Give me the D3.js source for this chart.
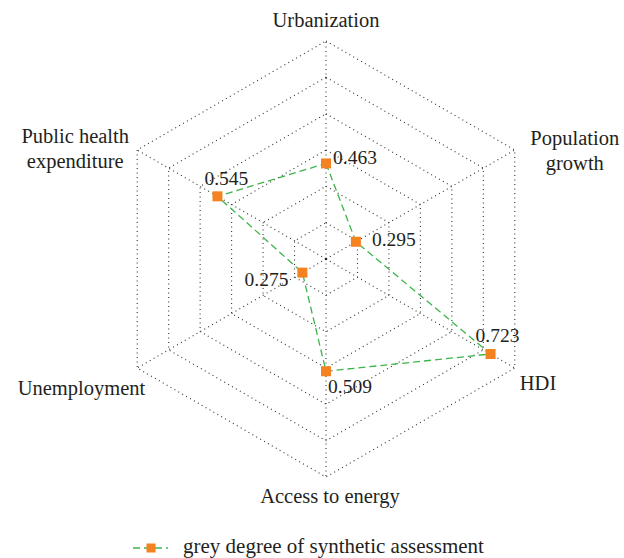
<!DOCTYPE html>
<html>
<head>
<meta charset="utf-8">
<script src="https://cdn.jsdelivr.net/npm/d3@7"></script>
<style>
  body { margin: 0; background: #fff; }
</style>
</head>
<body>
<div id="chart-area"></div>
<script>
var indicators = ["Urbanization", "Population growth", "HDI", "Access to energy", "Unemployment", "Public health expenditure"];
var values = [0.463, 0.295, 0.723, 0.509, 0.275, 0.545];
var ringTicks = [0.3, 0.4, 0.5, 0.6, 0.7, 0.8];
var seriesName = "grey degree of synthetic assessment";

var fontFam = "'Liberation Serif', serif";

// label placement, per axis (offset from outer vertex)
var axisLabelPos = [
	{dx: 0, dy: -14, anchor: "middle", lines: ["Urbanization"]},
	{dx: 60, dy: -5, anchor: "middle", lines: ["Population", "growth"]},
	{dx: 5, dy: 22, anchor: "start", lines: ["HDI"]},
	{dx: 4, dy: 26, anchor: "middle", lines: ["Access to energy"]},
	{dx: 8, dy: 27, anchor: "end", lines: ["Unemployment"]},
	{dx: -62, dy: -7, anchor: "middle", lines: ["Public health", "expenditure"]}
];
// value label offsets from the marker
var valueLabelPos = [
	{dx: 7, dy: 1, anchor: "start"},
	{dx: 16, dy: 4, anchor: "start"},
	{dx: -15, dy: -12, anchor: "start"},
	{dx: 2, dy: 22, anchor: "start"},
	{dx: -14, dy: 13, anchor: "end"},
	{dx: -13, dy: -11, anchor: "start"}
];

var width = 624, height = 558;
var cx = 326, cy = 259, R = 218;

var svg = d3.select("#chart-area")
	.append("svg")
		.attr("width", width)
		.attr("height", height)
		.attr("font-family", fontFam);

var g = svg.append("g")
	.attr("transform", "translate(" + cx + "," + cy + ")");

var r = d3.scaleLinear()
	.domain([0.2, 0.8])
	.range([0, R]);

var angle = d3.scalePoint()
	.domain(indicators)
	.range([0, 2 * Math.PI * (indicators.length - 1) / indicators.length]);

function pt(name, v) {
	var a = angle(name);
	return [r(v) * Math.sin(a), -r(v) * Math.cos(a)];
}

// rings
var ringLine = d3.line();
g.selectAll(".ring")
	.data(ringTicks)
	.enter()
	.append("path")
		.attr("class", "ring")
		.attr("d", function(t) {
			return ringLine(indicators.map(function(n) { return pt(n, t); })) + "Z";
		})
		.attr("fill", "none")
		.attr("stroke", "#333")
		.attr("stroke-width", 1.1)
		.attr("stroke-dasharray", "1,3.5");

// spokes
g.selectAll(".spoke")
	.data(indicators)
	.enter()
	.append("line")
		.attr("class", "spoke")
		.attr("x1", 0).attr("y1", 0)
		.attr("x2", function(n) { return pt(n, 0.8)[0]; })
		.attr("y2", function(n) { return pt(n, 0.8)[1]; })
		.attr("stroke", "#333")
		.attr("stroke-width", 1.1)
		.attr("stroke-dasharray", "1,3.5");

g.append("circle")
	.attr("r", 1.3)
	.attr("fill", "#222");

// axis labels
indicators.forEach(function(n, i) {
	var p = pt(n, 0.8), lp = axisLabelPos[i];
	var t = g.append("text")
		.attr("x", p[0] + lp.dx)
		.attr("y", p[1] + lp.dy)
		.attr("text-anchor", lp.anchor)
		.attr("fill", "#231f20")
		.attr("font-size", "20.5px");
	lp.lines.forEach(function(s, k) {
		t.append("tspan")
			.attr("x", p[0] + lp.dx)
			.attr("dy", k == 0 ? 0 : 25)
			.text(s);
	});
});

// series
var pts = indicators.map(function(n, i) { return pt(n, values[i]); });

g.append("path")
	.attr("d", d3.line()(pts) + "Z")
	.attr("fill", "none")
	.attr("stroke", "#3cb54a")
	.attr("stroke-width", 1.3)
	.attr("stroke-dasharray", "7,4");

g.selectAll(".marker")
	.data(pts)
	.enter()
	.append("rect")
		.attr("class", "marker")
		.attr("x", function(d) { return d[0] - 5; })
		.attr("y", function(d) { return d[1] - 5; })
		.attr("width", 10)
		.attr("height", 10)
		.attr("fill", "#f58220");

g.selectAll(".val")
	.data(values)
	.enter()
	.append("text")
		.attr("class", "val")
		.attr("x", function(d, i) { return pts[i][0] + valueLabelPos[i].dx; })
		.attr("y", function(d, i) { return pts[i][1] + valueLabelPos[i].dy; })
		.attr("text-anchor", function(d, i) { return valueLabelPos[i].anchor; })
		.attr("fill", "#231f20")
		.attr("font-size", "19.5px")
		.text(function(d) { return d3.format(".3f")(d); });

// legend
var lg = svg.append("g").attr("transform", "translate(133,548)");
lg.append("line")
	.attr("x1", 0).attr("x2", 35)
	.attr("stroke", "#3cb54a")
	.attr("stroke-width", 1.3)
	.attr("stroke-dasharray", "7,4");
lg.append("rect")
	.attr("x", 13.5).attr("y", -4.5)
	.attr("width", 9).attr("height", 9)
	.attr("fill", "#f58220");
lg.append("text")
	.attr("x", 50).attr("y", 5)
	.attr("fill", "#231f20")
	.attr("font-size", "21px")
	.text(seriesName);
</script>
</body>
</html>
